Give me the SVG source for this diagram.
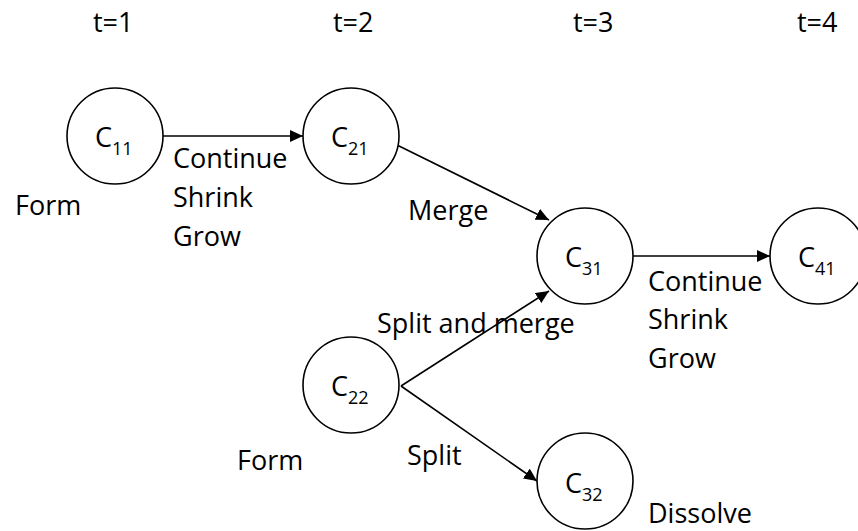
<svg xmlns="http://www.w3.org/2000/svg" width="858" height="531" viewBox="0 0 858 531">
  <style>
    .lbl { font-family: "Open Sans", "Liberation Sans", sans-serif; font-size: 27px; fill: #000; }
    .sub { font-size: 18px; }
    .node circle { fill: #fff; stroke: #000; stroke-width: 1.6; }
    .edge { stroke: #000; stroke-width: 1.6; fill: none; marker-end: url(#arrow); }
  </style>
  <defs>
    <marker id="arrow" markerUnits="userSpaceOnUse" markerWidth="14" markerHeight="12" refX="13" refY="6" orient="auto">
      <path d="M0,0 L13,6 L0,12 Z" fill="#000"/>
    </marker>
  </defs>

  <!-- time steps -->
  <g id="time-axis">
    <text class="lbl" x="93" y="32">t=1</text>
    <text class="lbl" x="333" y="32">t=2</text>
    <text class="lbl" x="573" y="32">t=3</text>
    <text class="lbl" x="797" y="32">t=4</text>
  </g>

  <!-- connectors -->
  <g id="connectors">
    <line class="edge" x1="163" y1="136" x2="303" y2="136"/>
    <line class="edge" x1="397" y1="145" x2="549" y2="220"/>
    <line class="edge" x1="401" y1="386" x2="549" y2="291"/>
    <line class="edge" x1="401" y1="386" x2="537" y2="481"/>
    <line class="edge" x1="633" y1="256" x2="770" y2="256"/>
  </g>

  <!-- nodes -->
  <g id="c11" class="node">
    <circle cx="115" cy="136" r="48"/>
    <text class="lbl" x="95" y="147">C<tspan class="sub" dy="8">11</tspan></text>
  </g>
  <g id="c21" class="node">
    <circle cx="351" cy="136" r="48"/>
    <text class="lbl" x="331" y="147">C<tspan class="sub" dy="8">21</tspan></text>
  </g>
  <g id="c22" class="node">
    <circle cx="351" cy="385" r="48"/>
    <text class="lbl" x="331" y="396">C<tspan class="sub" dy="8">22</tspan></text>
  </g>
  <g id="c31" class="node">
    <circle cx="585" cy="256" r="48"/>
    <text class="lbl" x="565" y="267">C<tspan class="sub" dy="8">31</tspan></text>
  </g>
  <g id="c32" class="node">
    <circle cx="585" cy="481" r="48"/>
    <text class="lbl" x="565" y="493">C<tspan class="sub" dy="8">32</tspan></text>
  </g>
  <g id="c41" class="node">
    <circle cx="818" cy="256" r="48"/>
    <text class="lbl" x="798" y="267">C<tspan class="sub" dy="8">41</tspan></text>
  </g>

  <!-- event labels -->
  <g id="labels">
    <text class="lbl" x="15" y="215">Form</text>
    <text class="lbl" x="173" y="168">Continue</text>
    <text class="lbl" x="173" y="207">Shrink</text>
    <text class="lbl" x="173" y="246">Grow</text>
    <text class="lbl" x="408" y="220">Merge</text>
    <text class="lbl" x="377" y="333">Split and merge</text>
    <text class="lbl" x="237" y="470">Form</text>
    <text class="lbl" x="407" y="465">Split</text>
    <text class="lbl" x="648" y="291">Continue</text>
    <text class="lbl" x="648" y="329">Shrink</text>
    <text class="lbl" x="648" y="368">Grow</text>
    <text class="lbl" x="648" y="523">Dissolve</text>
  </g>
</svg>
